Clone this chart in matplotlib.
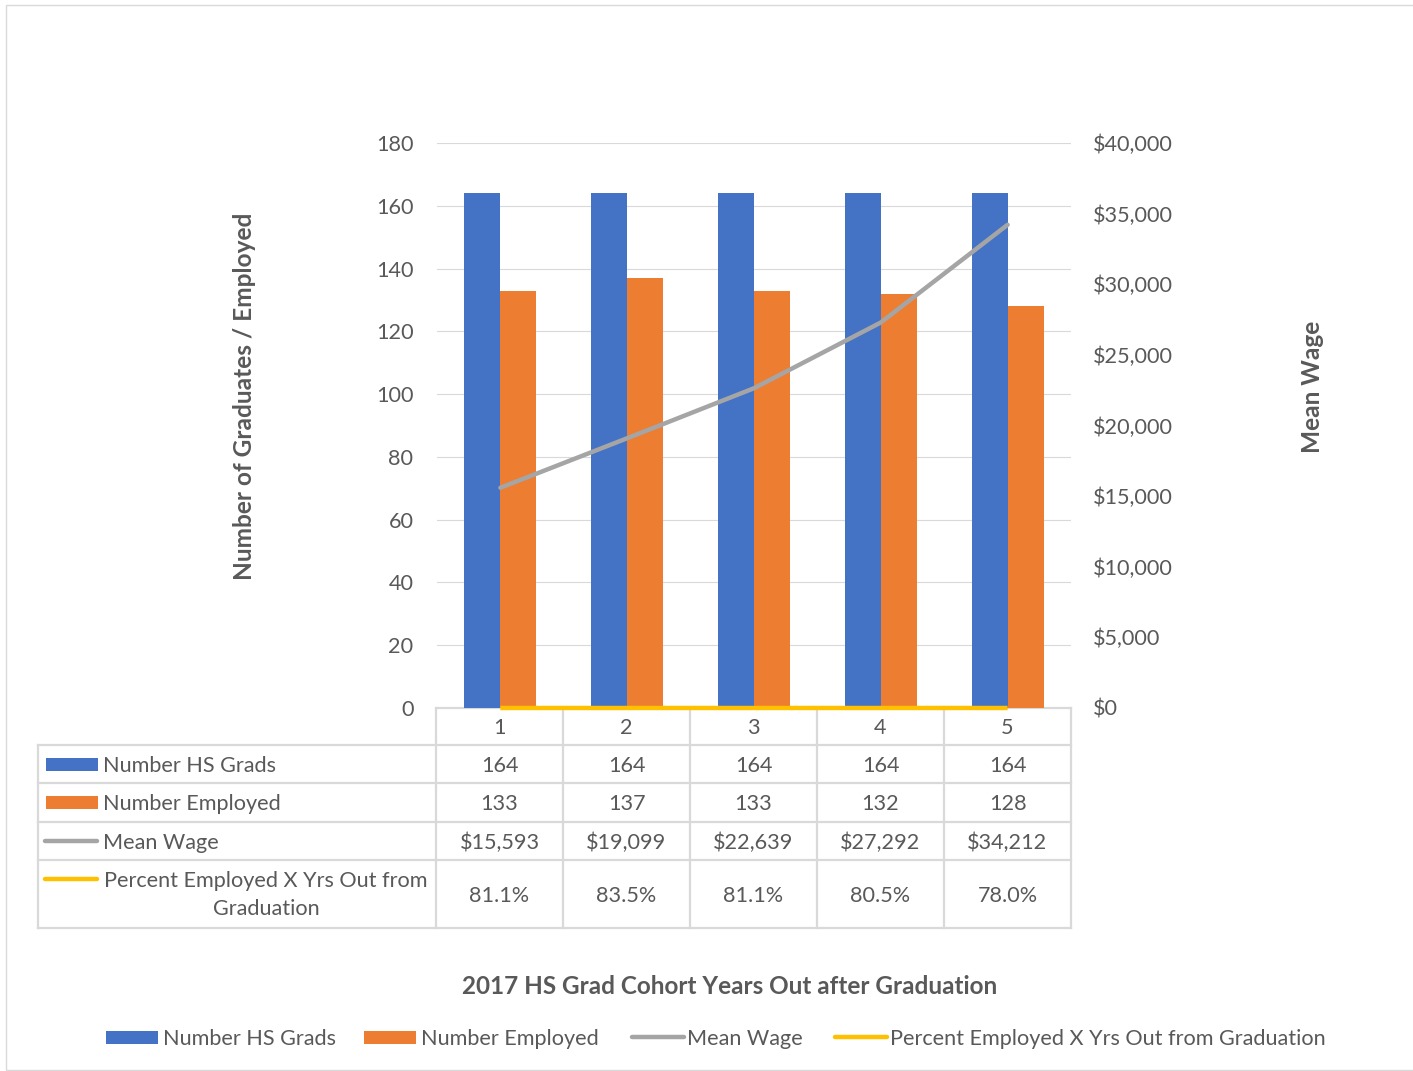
import numpy as np
import matplotlib.pyplot as plt
from matplotlib.lines import Line2D
from matplotlib.patches import Rectangle
from matplotlib.ticker import FuncFormatter

years = [1, 2, 3, 4, 5]
hs_grads = [164, 164, 164, 164, 164]
employed = [133, 137, 133, 132, 128]
mean_wage = [15593, 19099, 22639, 27292, 34212]
pct_employed = [0.811, 0.835, 0.811, 0.805, 0.780]

series_names = ['Number HS Grads', 'Number Employed', 'Mean Wage',
                'Percent Employed X Yrs Out from Graduation']
row_labels = ['Number HS Grads', 'Number Employed', 'Mean Wage',
              'Percent Employed X Yrs Out from\nGraduation']

BLUE, ORANGE, GRAY, GOLD = '#4472C4', '#ED7D31', '#A5A5A5', '#FFC000'
TXT = '#595959'
GRID = '#D9D9D9'
FS = 15.6
LW = 3.2

plt.rcParams['font.family'] = ['Lato', 'DejaVu Sans']

W, H = 1413, 1071
fig = plt.figure(figsize=(W / 100, H / 100), dpi=100)


def fx(px):
    return px / W


def fy(py):
    return 1 - py / H


# outer chart border
fig.add_artist(Rectangle((fx(6), fy(1070)), fx(1420) - fx(6), fy(5) - fy(1070),
                         transform=fig.transFigure, fill=False, ec=GRID, lw=1, zorder=0.5))

ax = fig.add_axes([fx(437), fy(708), fx(1071) - fx(437), fy(143) - fy(708)])
ax.set_zorder(1)
ax.patch.set_visible(False)
x = np.array(years)
w = 0.284
ax.bar(x - w / 2, hs_grads, w, color=BLUE, zorder=2)
ax.bar(x + w / 2, employed, w, color=ORANGE, zorder=2)
ax.set_xlim(0.5, 5.5)
ax.set_ylim(0, 180)
ax.set_yticks(range(0, 181, 20))
ax.set_xticks([])
ax.grid(axis='y', color=GRID, lw=0.8, zorder=0)
ax.set_axisbelow(True)
for s in ax.spines.values():
    s.set_visible(False)
ax.tick_params(axis='y', length=0, pad=17, labelsize=FS, labelcolor=TXT)

ax2 = ax.twinx()
ax2.set_zorder(1.1)
ax2.plot(years, mean_wage, color=GRAY, lw=LW, solid_capstyle='round', zorder=3)
ax2.plot(years, pct_employed, color=GOLD, lw=LW, solid_capstyle='butt', zorder=3,
         clip_on=False)
ax2.set_ylim(0, 40000)
ax2.set_yticks(range(0, 40001, 5000))
ax2.yaxis.set_major_formatter(FuncFormatter(lambda v, p: '${:,.0f}'.format(v)))
for s in ax2.spines.values():
    s.set_visible(False)
ax2.tick_params(axis='y', length=0, pad=15.5, labelsize=FS, labelcolor=TXT)

fig.text(fx(245), fy(396), 'Number of Graduates / Employed', rotation=90,
         ha='center', va='center', fontsize=17.6, fontweight='bold', color=TXT)
fig.text(fx(1313), fy(387), 'Mean Wage', rotation=90,
         ha='center', va='center', fontsize=17.6, fontweight='bold', color=TXT)

# data table
cols = [38, 436, 563, 690, 817, 944, 1071]
rows = [708, 745, 783, 822, 860, 928]


def hline(x0, x1, y):
    fig.add_artist(Line2D([fx(x0), fx(x1)], [fy(y), fy(y)], color=GRID, lw=1.6,
                          transform=fig.transFigure, zorder=0.5))


def vline(xp, y0, y1):
    fig.add_artist(Line2D([fx(xp), fx(xp)], [fy(y0), fy(y1)], color=GRID, lw=1.6,
                          transform=fig.transFigure, zorder=0.5))


hline(cols[1], cols[-1], rows[0])
for r in rows[1:]:
    hline(cols[0], cols[-1], r)
vline(cols[0], rows[1], rows[-1])
for c in cols[1:]:
    vline(c, rows[0], rows[-1])

cx = [(cols[i] + cols[i + 1]) / 2 for i in range(1, 6)]
for i, yr in enumerate(years):
    fig.text(fx(cx[i]), fy((rows[0] + rows[1]) / 2 + 2), str(yr), ha='center', va='center',
             fontsize=FS, color=TXT)

table_vals = [
    [str(v) for v in hs_grads],
    [str(v) for v in employed],
    ['${:,.0f}'.format(v) for v in mean_wage],
    ['{:.1f}%'.format(v * 100) for v in pct_employed],
]
for r, vals in enumerate(table_vals):
    yc = fy((rows[r + 1] + rows[r + 2]) / 2 + 2)
    for i, v in enumerate(vals):
        fig.text(fx(cx[i]), yc, v, ha='center', va='center', fontsize=FS, color=TXT)

# row label keys
for r in range(4):
    yc = (rows[r + 1] + rows[r + 2]) / 2
    if r < 2:
        col = BLUE if r == 0 else ORANGE
        fig.add_artist(Rectangle((fx(46), fy(yc + 6.5)), fx(98) - fx(46), fy(yc - 6.5) - fy(yc + 6.5),
                                 transform=fig.transFigure, color=col, lw=0))
        fig.text(fx(103), fy(yc + 2), row_labels[r], ha='left', va='center', fontsize=FS, color=TXT)
    elif r == 2:
        fig.add_artist(Line2D([fx(45), fx(97)], [fy(yc), fy(yc)], color=GRAY, lw=LW,
                              solid_capstyle='round', transform=fig.transFigure))
        fig.text(fx(103), fy(yc + 2), row_labels[r], ha='left', va='center', fontsize=FS, color=TXT)
    else:
        ky = 879
        fig.add_artist(Line2D([fx(45), fx(97)], [fy(ky), fy(ky)], color=GOLD, lw=LW,
                              solid_capstyle='round', transform=fig.transFigure))
        fig.text(fx(266), fy(yc + 1), row_labels[r], ha='center', va='center', fontsize=FS,
                 color=TXT, multialignment='center', linespacing=1.55)

fig.text(fx(730), fy(986), '2017 HS Grad Cohort Years Out after Graduation',
         ha='center', va='center', fontsize=17.5, fontweight='bold', color=TXT)

# legend
ly = 1037
leg = [(106, 'bar', BLUE), (364, 'bar', ORANGE), (630, 'line', GRAY), (833, 'line', GOLD)]
for (x0, kind, col), name in zip(leg, series_names):
    if kind == 'bar':
        fig.add_artist(Rectangle((fx(x0), fy(ly + 6.5)), fx(x0 + 52) - fx(x0), fy(ly - 6.5) - fy(ly + 6.5),
                                 transform=fig.transFigure, color=col, lw=0))
    else:
        fig.add_artist(Line2D([fx(x0 + 2), fx(x0 + 54)], [fy(ly), fy(ly)], color=col, lw=LW,
                              solid_capstyle='round', transform=fig.transFigure))
    fig.text(fx(x0 + 57), fy(ly + 2), name, ha='left', va='center', fontsize=FS, color=TXT)

fig.savefig('out.png', dpi=100)
